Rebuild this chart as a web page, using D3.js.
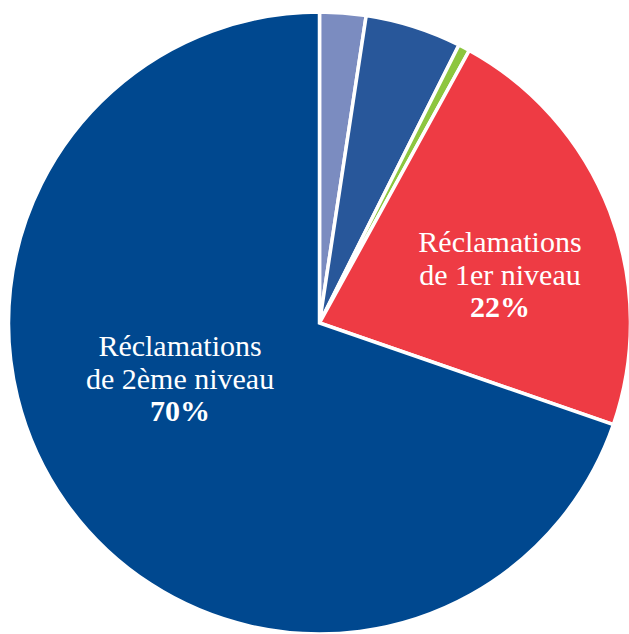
<!DOCTYPE html>
<html>
<head>
<meta charset="utf-8">
<script src="https://cdn.jsdelivr.net/npm/d3@7"></script>
<style>
  html, body { margin: 0; padding: 0; background: #fff; }
  svg { display: block; }
  .lbl { font-family: "Liberation Serif", "DejaVu Serif", serif; fill: #fff; }
</style>
</head>
<body>
<div id="chart"></div>
<script>
// slices, clockwise from 12 o'clock
const categories = ["Autres A", "Autres B", "Autres C", "Réclamations de 1er niveau", "Réclamations de 2ème niveau"];
const values = [2.4, 5.0, 0.6, 22.3, 69.7];
const colors = ["#7b8cc0", "#28579a", "#8dc63f", "#ee3b44", "#00488f"];
// label lines (only the two big slices are labelled)
const labelLines = [null, null, null, ["Réclamations", "de 1er niveau", "22%"], ["Réclamations", "de 2ème niveau", "70%"]];

const width = 629, height = 634;
const cx = 319.5, cy = 323, radius = 311;

const svg = d3.select("#chart").append("svg")
  .attr("width", width)
  .attr("height", height);

const g = svg.append("g")
  .attr("transform", "translate(" + cx + "," + cy + ")");

const data = categories.map((c, i) => ({ key: c, value: values[i], color: colors[i], lines: labelLines[i] }));

const pie = d3.pie()
  .sort(null)
  .value(d => d.value);

const arc = d3.arc()
  .innerRadius(0)
  .outerRadius(radius);

const arcs = pie(data);

g.selectAll("path.slice")
  .data(arcs)
  .enter().append("path")
  .attr("class", "slice")
  .attr("d", arc)
  .attr("fill", d => d.data.color)
  .attr("stroke", "#fff")
  .attr("stroke-width", 3.5)
  .attr("stroke-linejoin", "miter");

// label placement: angle (deg, clockwise from top) and distance as share of radius
const labelPos = {
  "Réclamations de 1er niveau": { angle: 78.1, dist: 0.593 },
  "Réclamations de 2ème niveau": { angle: 244.7, dist: 0.496 }
};

const lineH = 32.5;
const labels = g.selectAll("text.lbl")
  .data(arcs.filter(d => d.data.lines))
  .enter().append("text")
  .attr("class", "lbl")
  .attr("text-anchor", "middle")
  .attr("font-size", 30)
  .attr("transform", d => {
    const p = labelPos[d.data.key];
    const a = p.angle * Math.PI / 180;
    return "translate(" + (Math.sin(a) * p.dist * radius) + "," + (-Math.cos(a) * p.dist * radius) + ")";
  });

labels.each(function (d) {
  const t = d3.select(this);
  d.data.lines.forEach((ln, i) => {
    t.append("tspan")
      .attr("x", 0)
      .attr("y", (i - 1) * lineH)
      .attr("font-weight", i === 2 ? "bold" : null)
      .text(ln);
  });
});
</script>
</body>
</html>
